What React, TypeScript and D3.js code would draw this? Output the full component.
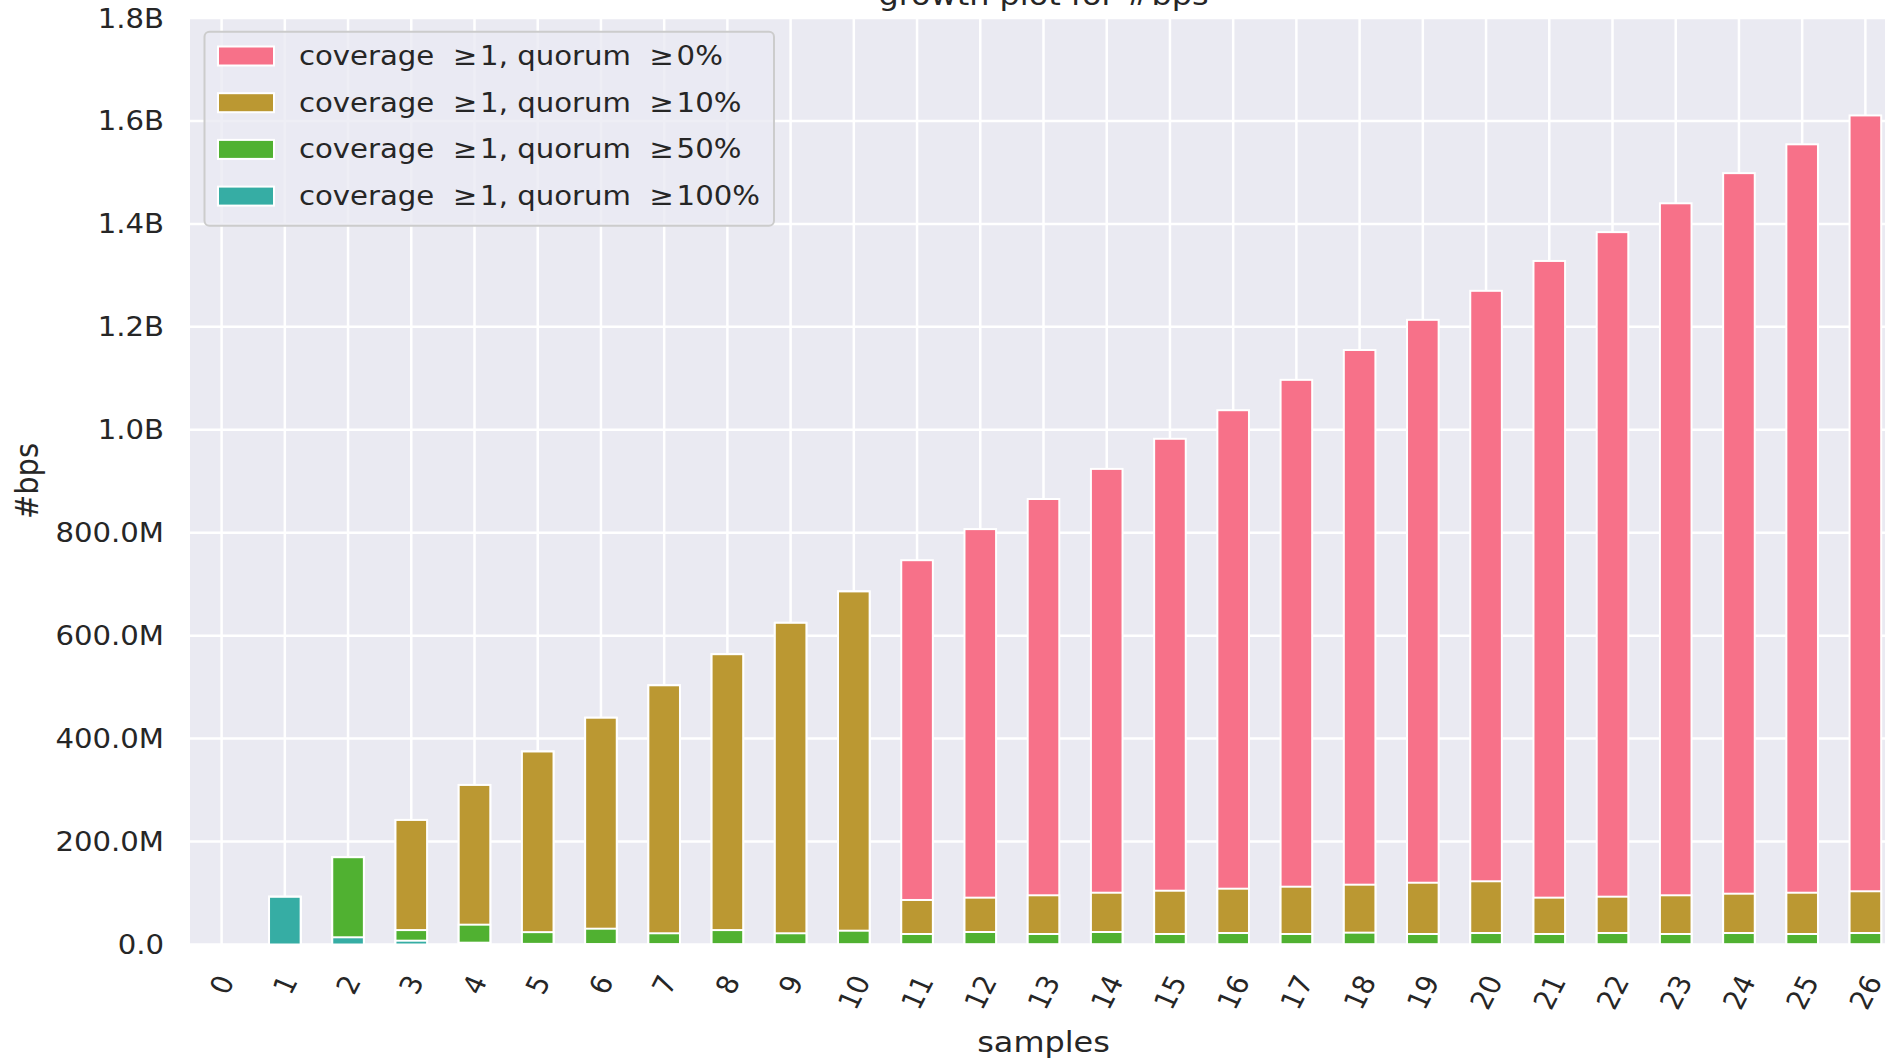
import React, { useEffect, useRef } from "react";
import * as d3 from "d3";

// x categories: number of samples
const samples = ["0", "1", "2", "3", "4", "5", "6", "7", "8", "9", "10", "11", "12", "13",
  "14", "15", "16", "17", "18", "19", "20", "21", "22", "23", "24", "25", "26"];

// #bps in millions, cumulative per quorum threshold (bars are overlaid, not stacked)
const quorum0 = [0, 92.7, 169.6, 242, 310, 375, 440.6, 503.6, 564, 625, 686, 746.6, 807, 865.5,
  924, 982.5, 1038, 1097, 1155, 1213.6, 1270, 1328, 1384, 1440, 1498.6, 1554.6, 1610.7];
const quorum10 = [0, 92.7, 169.6, 242, 310, 375, 440.6, 503.6, 564, 625, 686, 86.5, 91, 95.6,
  100.6, 104.5, 108.4, 112.3, 116.2, 120, 122.8, 91, 92.9, 95.6, 98.7, 100.6, 103.4];
const quorum50 = [0, 92.7, 169.6, 28, 38.5, 24, 30.7, 21.8, 28, 21.8, 26.8, 20.4, 24.3, 20.4,
  24.3, 20.4, 22.3, 20.4, 23, 20.4, 22.3, 20.4, 22.3, 20.4, 22.3, 20.4, 22.3];
const quorum100 = [0, 92.7, 14, 7.4, 3.5, 1.2, 0.8, 0.6, 0.5, 0.4, 0.3, 0.3, 0.3, 0.3,
  0.3, 0.3, 0.3, 0.3, 0.3, 0.3, 0.3, 0.3, 0.3, 0.3, 0.3, 0.3, 0.3];

const seriesLabels = [
  "coverage  \u2265\u200A1, quorum  \u2265\u200A0%",
  "coverage  \u2265\u200A1, quorum  \u2265\u200A10%",
  "coverage  \u2265\u200A1, quorum  \u2265\u200A50%",
  "coverage  \u2265\u200A1, quorum  \u2265\u200A100%",
];
const seriesValues = [quorum0, quorum10, quorum50, quorum100];
const colors = ["#f77189", "#bb9832", "#50b131", "#36ada4"];

const yMax = 1800; // millions

const W = 1885;
const H = 1062;
const plot = { left: 190, right: 1897, top: 18, bottom: 944 };
const SX = 1.1; // reference text looks stretched horizontally
const FONT = "DejaVu Sans";
const INK = "#262626";

const fmt = (v) => {
  if (v === 0) return "0.0";
  if (v >= 1000) return (v / 1000).toFixed(1) + "B";
  return v.toFixed(1) + "M";
};

const App = () => {
  const svgRef = useRef(null);

  useEffect(() => {
    const svg = d3.select(svgRef.current);
    svg.selectAll("*").remove();

    const x = d3.scaleBand()
      .domain(samples)
      .range([plot.left, plot.right])
      .paddingInner(0.5)
      .paddingOuter(0.25);

    const y = d3.scaleLinear()
      .domain([0, yMax])
      .range([944.5, plot.top]);

    svg.append("defs").append("clipPath")
      .attr("id", "plotclip")
      .append("rect")
      .attr("x", plot.left)
      .attr("y", plot.top)
      .attr("width", plot.right - plot.left)
      .attr("height", plot.bottom - plot.top);

    svg.append("rect")
      .attr("x", plot.left)
      .attr("y", plot.top)
      .attr("width", plot.right - plot.left)
      .attr("height", plot.bottom - plot.top)
      .attr("fill", "#eaeaf2");

    const g = svg.append("g").attr("clip-path", "url(#plotclip)");

    // grid
    g.selectAll(".hgrid")
      .data(y.ticks(9))
      .join("line")
      .attr("x1", plot.left)
      .attr("x2", plot.right)
      .attr("y1", (d) => y(d))
      .attr("y2", (d) => y(d))
      .attr("stroke", "white")
      .attr("stroke-width", 2.5);

    g.selectAll(".vgrid")
      .data(samples)
      .join("line")
      .attr("x1", (d) => x(d) + x.bandwidth() / 2)
      .attr("x2", (d) => x(d) + x.bandwidth() / 2)
      .attr("y1", plot.top)
      .attr("y2", plot.bottom)
      .attr("stroke", "white")
      .attr("stroke-width", 2.5);

    // bars, widest threshold first so smaller ones sit in front
    seriesValues.forEach((vals, si) => {
      g.append("g")
        .selectAll("rect")
        .data(vals.map((v, i) => ({ s: samples[i], v })).filter((d) => d.v > 0))
        .join("rect")
        .attr("x", (d) => x(d.s))
        .attr("width", x.bandwidth())
        .attr("y", (d) => y(d.v))
        .attr("height", (d) => y(0) - y(d.v))
        .attr("fill", colors[si])
        .attr("stroke", "white")
        .attr("stroke-width", 2);
    });

    // y tick labels
    svg.append("g")
      .selectAll("text")
      .data(y.ticks(9))
      .join("text")
      .attr("transform", (d) => `translate(164,${y(d)}) scale(${SX},1)`)
      .attr("text-anchor", "end")
      .attr("dy", "0.36em")
      .attr("font-family", FONT)
      .attr("font-size", 26.5)
      .attr("fill", INK)
      .text((d) => fmt(d));

    // x tick labels, rotated
    const rot = 65;
    const rad = (rot * Math.PI) / 180;
    const fs = 26.5;
    svg.append("g")
      .selectAll("text")
      .data(samples)
      .join("text")
      .attr("transform", (d) => {
        const L = d.length * 0.636 * fs;
        const h = L * Math.sin(rad) + 0.968 * fs * Math.cos(rad);
        const cx = x(d) + x.bandwidth() / 2;
        const cy = 971.5 + h / 2;
        return `translate(${cx},${cy}) scale(${SX},1) rotate(${-rot})`;
      })
      .attr("text-anchor", "middle")
      .attr("dy", "0.36em")
      .attr("font-family", FONT)
      .attr("font-size", fs)
      .attr("fill", INK)
      .text((d) => d);

    // axis labels & title
    svg.append("text")
      .attr("transform", `translate(${(plot.left + plot.right) / 2},1052) scale(${SX},1)`)
      .attr("text-anchor", "middle")
      .attr("font-family", FONT)
      .attr("font-size", 29)
      .attr("fill", INK)
      .text("samples");

    svg.append("text")
      .attr("transform", `translate(38,${(plot.top + plot.bottom) / 2}) scale(${SX},1) rotate(-90)`)
      .attr("text-anchor", "middle")
      .attr("font-family", FONT)
      .attr("font-size", 29)
      .attr("fill", INK)
      .text("#bps");

    svg.append("text")
      .attr("transform", `translate(${(plot.left + plot.right) / 2},5) scale(${SX},1)`)
      .attr("text-anchor", "middle")
      .attr("font-family", FONT)
      .attr("font-size", 29)
      .attr("fill", INK)
      .text("growth plot for #bps");

    // legend
    const leg = svg.append("g");
    leg.append("rect")
      .attr("x", 204.5)
      .attr("y", 31.7)
      .attr("width", 569.5)
      .attr("height", 194)
      .attr("rx", 5)
      .attr("fill", "rgba(234,234,242,0.8)")
      .attr("stroke", "#cccccc")
      .attr("stroke-width", 2);

    const rows = leg.selectAll(".row")
      .data(seriesLabels)
      .join("g")
      .attr("transform", (d, i) => `translate(0,${56 + i * 46.7})`);

    rows.append("rect")
      .attr("x", 218)
      .attr("y", -9.5)
      .attr("width", 56)
      .attr("height", 19)
      .attr("fill", (d, i) => colors[i])
      .attr("stroke", "white")
      .attr("stroke-width", 2);

    rows.append("text")
      .attr("transform", `translate(299,9) scale(${SX},1)`)
      .attr("font-family", FONT)
      .attr("font-size", 26.5)
      .attr("fill", INK)
      .style("white-space", "pre")
      .text((d) => d);
  }, []);

  return (
    <svg
      ref={svgRef}
      width={W}
      height={H}
      style={{ position: "absolute", left: 0, top: 0, display: "block", background: "white" }}
    ></svg>
  );
};

export default App;
